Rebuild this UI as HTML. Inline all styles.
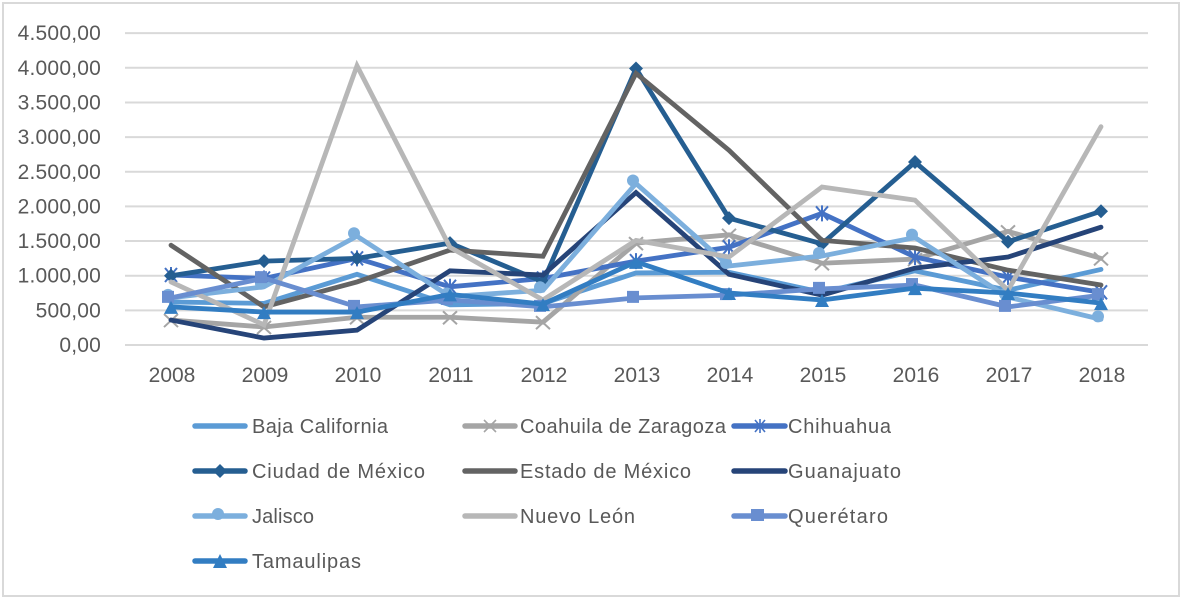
<!DOCTYPE html>
<html lang="es">
<head>
<meta charset="utf-8">
<title>Gráfico de líneas por entidad federativa, 2008–2018</title>
<style>
html,body{margin:0;padding:0;background:#fff;width:1185px;height:600px;overflow:hidden}
svg{display:block}
text{font-family:"Liberation Sans",sans-serif;fill:#595959}
.tick{font-size:21px}
.leg{font-size:20px}
.ll{stroke-width:5.5;stroke-linecap:round;fill:none}
</style>
</head>
<body>
<svg id="chart" width="1185" height="600" viewBox="0 0 1185 600" xmlns="http://www.w3.org/2000/svg">
  <rect x="3" y="3" width="1176" height="593" fill="#fff" stroke="#d9d9d9" stroke-width="2"/>
  <g id="grid"></g>
  <g id="ylabels"></g>
  <g id="xlabels"></g>
  <g id="series"></g>
  <g id="legend">
    <g><line class="ll" x1="195" y1="426" x2="245" y2="426" stroke="#5B9BD5"/><text class="leg" x="252" y="433" textLength="136">Baja California</text></g>
    <g><line class="ll" x1="465" y1="426" x2="515" y2="426" stroke="#A5A5A5"/><path d="M484 420l12 12M496 420l-12 12" stroke="#A5A5A5" stroke-width="1.6" fill="none"/><text class="leg" x="520" y="433" textLength="206">Coahuila de Zaragoza</text></g>
    <g><line class="ll" x1="734" y1="426" x2="785" y2="426" stroke="#4472C4"/><path d="M755 420l10 12M765 420l-10 12M760 419v14" stroke="#4472C4" stroke-width="1.6" fill="none"/><text class="leg" x="788" y="433" textLength="103">Chihuahua</text></g>
    <g><line class="ll" x1="195" y1="471" x2="245" y2="471" stroke="#255E91"/><path d="M220 464l7 7-7 7-7-7z" fill="#255E91"/><text class="leg" x="252" y="478" textLength="173">Ciudad de México</text></g>
    <g><line class="ll" x1="465" y1="471" x2="515" y2="471" stroke="#636363"/><text class="leg" x="520" y="478" textLength="171">Estado de México</text></g>
    <g><line class="ll" x1="734" y1="471" x2="785" y2="471" stroke="#264478"/><text class="leg" x="788" y="478" textLength="113">Guanajuato</text></g>
    <g><line class="ll" x1="195" y1="516" x2="245" y2="516" stroke="#7CAFDD"/><circle cx="218" cy="514" r="6" fill="#7CAFDD"/><text class="leg" x="252" y="523" textLength="62">Jalisco</text></g>
    <g><line class="ll" x1="465" y1="516" x2="515" y2="516" stroke="#B7B7B7"/><text class="leg" x="520" y="523" textLength="115">Nuevo León</text></g>
    <g><line class="ll" x1="734" y1="516" x2="785" y2="516" stroke="#698ED0"/><rect x="751" y="509" width="13" height="12" fill="#698ED0"/><text class="leg" x="788" y="523" textLength="100">Querétaro</text></g>
    <g><line class="ll" x1="195" y1="561" x2="245" y2="561" stroke="#327DC2"/><path d="M220 554l7 14h-14z" fill="#327DC2"/><text class="leg" x="252" y="568" textLength="109">Tamaulipas</text></g>
  </g>
</svg>
<script>
const years = ["2008","2009","2010","2011","2012","2013","2014","2015","2016","2017","2018"];
const yTicks = [0,500,1000,1500,2000,2500,3000,3500,4000,4500];
const yTickLabels = ["0,00","500,00","1.000,00","1.500,00","2.000,00","2.500,00","3.000,00","3.500,00","4.000,00","4.500,00"];

const bajaCalifornia = [620,600,1020,580,600,1040,1050,760,1070,790,1090];
const coahuila = [360,260,400,400,330,1470,1590,1180,1240,1640,1250];
const chihuahua = [1010,960,1250,840,960,1210,1410,1900,1270,980,760];
const ciudadDeMexico = [1000,1210,1250,1470,910,3990,1830,1460,2640,1490,1930];
const estadoDeMexico = [1440,550,910,1370,1280,3920,2810,1510,1400,1080,865];
const guanajuato = [360,100,215,1070,1010,2200,1020,720,1110,1270,1700];
const jalisco = [680,840,1570,700,790,2330,1140,1285,1550,690,370];
const nuevoLeon = [910,290,4030,1410,650,1510,1270,2280,2090,790,3150];
const queretaro = [680,965,550,650,550,680,720,810,865,550,720];
const tamaulipas = [550,475,475,730,590,1200,750,650,820,750,605];

const seriesList = [
  {slug:"baja-california", values:bajaCalifornia, color:"#5B9BD5", marker:"none"},
  {slug:"coahuila-de-zaragoza", values:coahuila, color:"#A5A5A5", marker:"x"},
  {slug:"chihuahua", values:chihuahua, color:"#4472C4", marker:"star"},
  {slug:"ciudad-de-mexico", values:ciudadDeMexico, color:"#255E91", marker:"diamond"},
  {slug:"estado-de-mexico", values:estadoDeMexico, color:"#636363", marker:"none"},
  {slug:"guanajuato", values:guanajuato, color:"#264478", marker:"none"},
  {slug:"jalisco", values:jalisco, color:"#7CAFDD", marker:"circle"},
  {slug:"nuevo-leon", values:nuevoLeon, color:"#B7B7B7", marker:"none"},
  {slug:"queretaro", values:queretaro, color:"#698ED0", marker:"square"},
  {slug:"tamaulipas", values:tamaulipas, color:"#327DC2", marker:"triangle"}
];

const NS = "http://www.w3.org/2000/svg";
function xScale(i){ return 171 + i * 93; }
function yScale(v){ return 345 - v * 0.0693; }
function make(tag, parent){
  const el = document.createElementNS(NS, tag);
  parent.appendChild(el);
  return el;
}

const grid = document.getElementById("grid");
const ylabels = document.getElementById("ylabels");
yTicks.forEach(function(t, i){
  const ln = make("line", grid);
  
  
  ln.setAttribute("x1", 125);
  ln.setAttribute("x2", 1148);
  ln.setAttribute("y1", yScale(t));
  ln.setAttribute("y2", yScale(t));
  ln.setAttribute("stroke", "#d9d9d9");
  ln.setAttribute("stroke-width", 2);
  const tx = make("text", ylabels);
  
  
  tx.setAttribute("class", "tick");
  tx.setAttribute("x", 101);
  tx.setAttribute("y", yScale(t) + 7);
  tx.setAttribute("text-anchor", "end");
  tx.style.letterSpacing = "0.2px";
  tx.textContent = yTickLabels[i];
});

const xlabels = document.getElementById("xlabels");
years.forEach(function(y, i){
  const tx = make("text", xlabels);
  
  
  tx.setAttribute("class", "tick");
  tx.setAttribute("x", xScale(i) + 1);
  tx.setAttribute("y", 382);
  tx.setAttribute("text-anchor", "middle");
  tx.textContent = y;
});

function drawMarker(g, kind, x, y, color){
  let el;
  if(kind === "x"){
    el = make("path", g);
    el.setAttribute("d", "M"+(x-7)+" "+(y-6)+"l14 13M"+(x+7)+" "+(y-6)+"l-14 13");
    el.setAttribute("stroke", color);
    el.setAttribute("stroke-width", 2);
    el.setAttribute("fill", "none");
  } else if(kind === "star"){
    el = make("path", g);
    el.setAttribute("d", "M"+(x-6)+" "+(y-7)+"l12 14M"+(x+6)+" "+(y-7)+"l-12 14M"+x+" "+(y-8)+"v16");
    el.setAttribute("stroke", color);
    el.setAttribute("stroke-width", 2);
    el.setAttribute("fill", "none");
  } else if(kind === "diamond"){
    el = make("path", g);
    el.setAttribute("d", "M"+x+" "+(y-7)+"l7 7-7 7-7-7z");
    el.setAttribute("fill", color);
  } else if(kind === "circle"){
    el = make("circle", g);
    el.setAttribute("cx", x - 3);
    el.setAttribute("cy", y - 3);
    el.setAttribute("r", 6);
    el.setAttribute("fill", color);
  } else if(kind === "square"){
    el = make("rect", g);
    el.setAttribute("x", x - 9);
    el.setAttribute("y", y - 7);
    el.setAttribute("width", 12);
    el.setAttribute("height", 12);
    el.setAttribute("fill", color);
  } else if(kind === "triangle"){
    el = make("path", g);
    el.setAttribute("d", "M"+x+" "+(y-6)+"l7 13h-14z");
    el.setAttribute("fill", color);
  }
  if(el){
    
    
  }
}

const seriesRoot = document.getElementById("series");
seriesList.forEach(function(s){
  const g = make("g", seriesRoot);
  
  
  const pl = make("polyline", g);
  
  
  pl.setAttribute("points", s.values.map(function(v, i){ return xScale(i) + "," + yScale(v); }).join(" "));
  pl.setAttribute("fill", "none");
  pl.setAttribute("stroke", s.color);
  pl.setAttribute("stroke-width", 4.8);
  pl.setAttribute("stroke-linecap", "round");
  pl.setAttribute("stroke-linejoin", "miter");
  s.values.forEach(function(v, i){
    drawMarker(g, s.marker, xScale(i), yScale(v), s.color);
  });
});
</script>
</body>
</html>
